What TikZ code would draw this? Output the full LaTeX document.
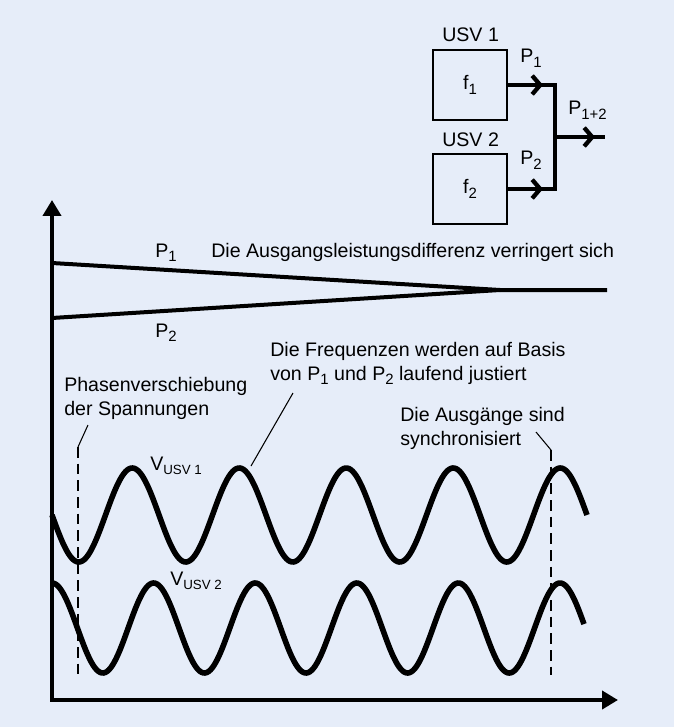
\documentclass[tikz,border=0pt]{standalone}
\usepackage{fontspec}
\setmainfont{Liberation Sans}
\usetikzlibrary{arrows.meta,decorations.markings}
\definecolor{panel}{RGB}{230,237,249}
\newcommand{\idx}[2][11.2]{\raisebox{-3.6pt}{\fontsize{#1}{#1}\selectfont #2}}

\begin{document}
\begin{tikzpicture}[x=0.75pt, y=-0.75pt,
  every node/.style={font=\fontsize{14.7}{17.3}\selectfont, inner sep=0pt},
  lbl/.style={anchor=base west, align=left},
  usvbox/.style={draw, line width=1.7pt, minimum width=55.5pt, minimum height=52.5pt},
  power/.style={line width=3.2pt},
  chev/.style={postaction={decorate}, decoration={markings, mark=at position #1 with {\arrow{Straight Barb[length=6pt, width=14pt]}}}},
  axis/.style={line width=3.6pt, {Triangle[length=12pt, width=13.5pt]}-{Triangle[length=12pt, width=13.5pt]}},
  pline/.style={line width=3pt},
  wave/.style={line width=4.2pt},
  marker/.style={line width=1.8pt, dash pattern=on 8pt off 4.5pt},
  leader/.style={line width=0.8pt}]
\fill[panel] (0,0) rectangle (674,727);

% Parallelschaltung oben rechts
\node[usvbox] (usv1) at (470,85) {f\idx{1}};
\node[usvbox] (usv2) at (470,189) {f\idx{2}};
\node[lbl] (usv1lbl) at (442,42) {USV 1};
\node[lbl] (usv2lbl) at (442,147) {USV 2};
\coordinate (bus) at (555,137);
\coordinate (out) at (605,137);
\draw[power, chev=-9pt] (usv1.east) -- (usv1.east -| bus);
\draw[power, chev=-9pt] (usv2.east) -- (usv2.east -| bus);
\draw[power, line cap=rect] (usv1.east -| bus) -- (usv2.east -| bus);
\draw[power, chev=-7.5pt] (bus) -- (out);
\node[lbl] (p1top) at (520,63) {P\idx{1}};
\node[lbl] (p2top) at (520,165) {P\idx{2}};
\node[lbl] (psum) at (568,115) {P\idx{1+2}};

% Achsen
\coordinate (orig) at (52,700);
\coordinate (ytip) at (52,200);
\coordinate (xtip) at (618,700);
\draw[axis] (ytip) -- (orig) -- (xtip);

% Leistungen
\coordinate (p1s) at (52,263);
\coordinate (p2s) at (52,318);
\coordinate (meet) at (500,290);
\coordinate (pend) at (607,290);
\draw[pline] (p1s) -- (meet) -- (pend);
\draw[pline] (p2s) -- (meet);
\node[lbl] (p1) at (155,257) {P\idx{1}};
\node[lbl] (p2) at (155,337) {P\idx{2}};
\node[lbl] (diff) at (211,257) {Die Ausgangsleistungsdifferenz verringert sich};

% Spannungen
\draw[wave] plot[domain=52:587, samples=300, smooth] (\x, {515+47*sin((\x-52)/107*360)});
\draw[wave] plot[domain=52:584, samples=300, smooth] (\x, {628-45*cos((\x-52)/101.6*360)});
\node[lbl] (v1) at (150,470) {V\idx[10]{USV 1}};
\node[lbl] (v2) at (170,585) {V\idx[10]{USV 2}};

% Markierungen
\coordinate (d1top) at (78,447);
\coordinate (d1bot) at (78,675);
\coordinate (d2top) at (551,450);
\coordinate (d2bot) at (551,675);
\draw[marker] (d1top) -- (d1bot);
\draw[marker] (d2top) -- (d2bot);

\node[lbl] (phase) at (64,415) {Phasenverschiebung\\der Spannungen};
\node[lbl] (freq) at (270,380) {Die Frequenzen werden auf Basis\\von P\idx{1} und P\idx{2} laufend justiert};
\node[lbl] (sync) at (400,445) {Die Ausgänge sind\\synchronisiert};
\coordinate (ph) at (88,425);
\coordinate (fq) at (293,393);
\coordinate (pk) at (251,466);
\coordinate (sy) at (536,432);
\draw[leader] (ph) -- (d1top);
\draw[leader] (fq) -- (pk);
\draw[leader] (sy) -- (d2top);
\end{tikzpicture}
\end{document}
